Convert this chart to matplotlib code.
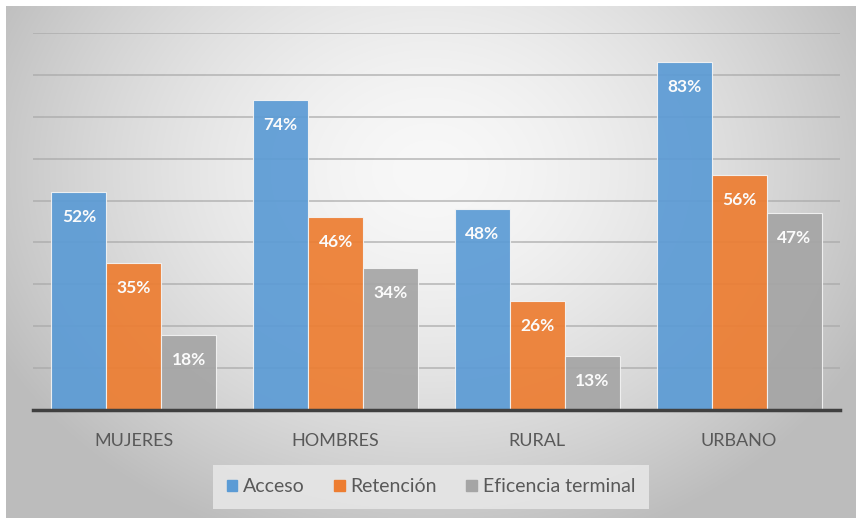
import numpy as np
import matplotlib
matplotlib.use("Agg")
import matplotlib.pyplot as plt
from matplotlib.patches import Rectangle

plt.rcParams['font.family'] = ['Lato', 'DejaVu Sans']

categorias = ["MUJERES", "HOMBRES", "RURAL", "URBANO"]
series = ["Acceso", "Retención", "Eficencia terminal"]
acceso = [52, 74, 48, 83]
retencion = [35, 46, 26, 56]
eficiencia = [18, 34, 13, 47]
colores = ["#5B9BD5", "#ED7D31", "#A5A5A5"]

W, H = 856, 518
fig = plt.figure(figsize=(W / 100, H / 100), dpi=100)

# radial gradient background
bg = fig.add_axes([0, 0, 1, 1], zorder=-10)
yy, xx = np.mgrid[0:H, 0:W]
r = np.sqrt(((xx - 430) / 520.0) ** 2 + ((yy - 170) / 420.0) ** 2)
val = np.clip(248 - 66 * r ** 1.6, 188, 250) / 255.0
img = np.dstack([val, val, val])
img[:6, :, :] = 1.0
img[:, :6, :] = 1.0
bg.imshow(img, extent=[0, W, H, 0], aspect='auto', interpolation='bilinear')
bg.set_xlim(0, W)
bg.set_ylim(H, 0)
bg.axis('off')

ax = fig.add_axes([33 / W, 1 - 410 / H, (840 - 33) / W, (410 - 33) / H])
ax.patch.set_alpha(0)

x = np.arange(len(categorias))
ancho = 0.2726
valores = [acceso, retencion, eficiencia]
for i, (vals, col, nombre) in enumerate(zip(valores, colores, series)):
    pos = x + (i - 1) * ancho
    bars = ax.bar(pos, vals, width=ancho, color=col, alpha=0.92,
                  edgecolor='#f4f4f4', linewidth=0.8, label=nombre, zorder=2)
    for b, v in zip(bars, vals):
        ax.annotate(f"{v}%", (b.get_x() + b.get_width() / 2, v),
                    xytext=(0, -18), textcoords='offset points',
                    ha='center', va='center', color='#fbfbfb',
                    fontsize=12.5, fontweight='bold', zorder=4)

ax.set_xlim(-0.5, len(categorias) - 0.5)
ax.set_ylim(0, 90)
ax.set_yticks(np.arange(10, 91, 10))
ax.yaxis.grid(True, color='#a8a8a8', linewidth=1.2, zorder=3, alpha=0.75)
ax.tick_params(axis='y', left=False, labelleft=False)
ax.tick_params(axis='x', bottom=False, colors='#595959', labelsize=13, pad=13)
ax.set_xticks(x)
ax.set_xticklabels(categorias)
for s in ['top', 'right', 'left']:
    ax.spines[s].set_visible(False)
ax.spines['bottom'].set_color('#404040')
ax.spines['bottom'].set_linewidth(2.5)
ax.spines['bottom'].set_zorder(5)

handles = [Rectangle((0, 0), 1, 1, color=c) for c in colores]
leg = fig.legend(handles, series, loc='center', bbox_to_anchor=(431 / W, 1 - 487 / H),
                 ncol=3, frameon=True, fontsize=14, handlelength=0.55, handleheight=0.55,
                 handletextpad=0.3, columnspacing=1.5, borderpad=0.7, fancybox=False)
leg.get_frame().set_facecolor('#e6e6e6')
leg.get_frame().set_edgecolor('none')
leg.get_frame().set_alpha(0.9)
for t in leg.get_texts():
    t.set_color('#595959')

fig.savefig("out.png", dpi=100)
